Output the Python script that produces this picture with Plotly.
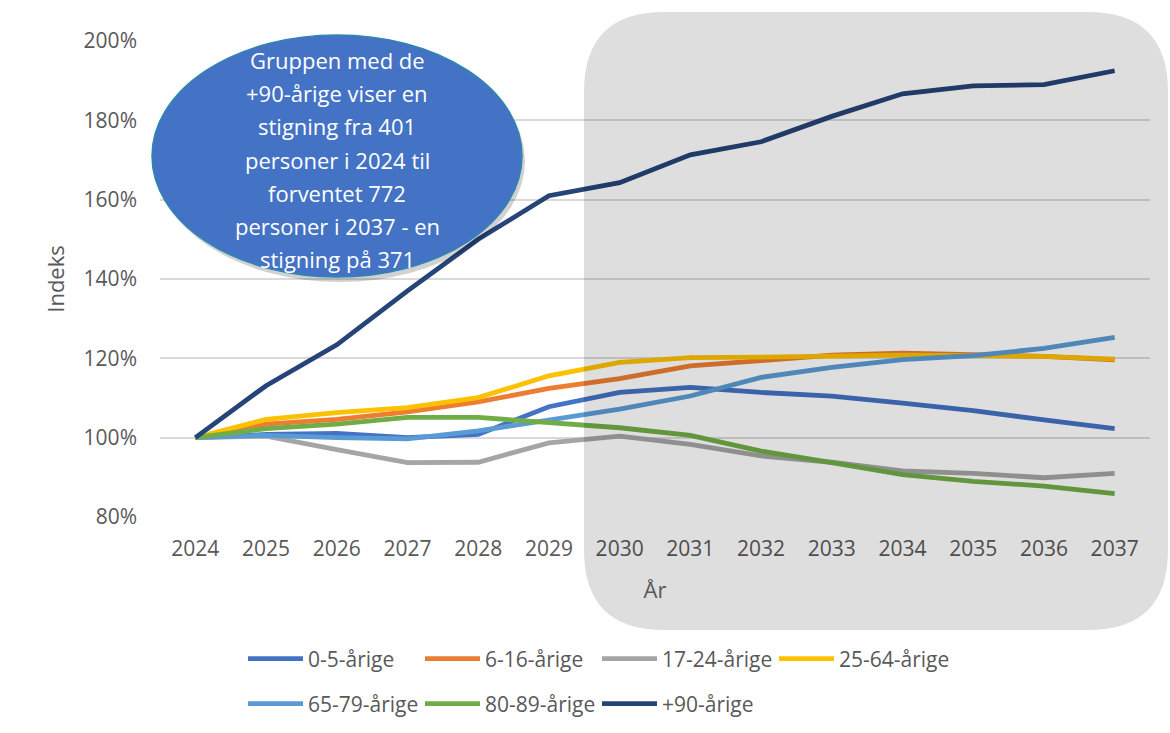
import plotly.graph_objects as go

years = [str(y) for y in range(2024, 2038)]
series_names = ["0-5-årige", "6-16-årige", "17-24-årige", "25-64-årige",
                "65-79-årige", "80-89-årige", "+90-årige"]
v_0_5 = [100, 100.8, 101.1, 100.0, 100.8, 107.8, 111.4, 112.7, 111.4, 110.5, 108.7, 106.8, 104.5, 102.3]
v_6_16 = [100, 103.4, 104.6, 106.5, 109.0, 112.4, 114.9, 118.1, 119.4, 120.8, 121.3, 120.8, 120.5, 119.6]
v_17_24 = [100, 100.4, 97.0, 93.7, 93.8, 98.7, 100.4, 98.3, 95.4, 93.8, 91.6, 91.0, 89.9, 91.0]
v_25_64 = [100, 104.6, 106.3, 107.6, 110.1, 115.6, 119.0, 120.2, 120.3, 120.7, 120.8, 120.7, 120.5, 119.8]
v_65_79 = [100, 100.6, 100.0, 99.7, 101.7, 104.6, 107.2, 110.5, 115.2, 117.7, 119.7, 120.7, 122.5, 125.3]
v_80_89 = [100, 102.3, 103.4, 105.1, 105.1, 103.8, 102.5, 100.6, 96.6, 93.7, 90.7, 89.0, 87.8, 85.9]
v_90 = [100, 113.1, 123.4, 137.0, 150.0, 161.0, 164.3, 171.3, 174.6, 181.0, 186.7, 188.7, 189.0, 192.5]
all_values = [v_0_5, v_6_16, v_17_24, v_25_64, v_65_79, v_80_89, v_90]
colors = ["#4472C4", "#ED7D31", "#A5A5A5", "#FFC000", "#5B9BD5", "#70AD47", "#264478"]

callout_lines = ["Gruppen med de", "+90-årige viser en", "stigning fra 401",
                 "personer i 2024 til", "forventet 772", "personer i 2037 - en",
                 "stigning på 371"]

FONT = "Open Sans, Noto Sans, sans-serif"
TXT = "#595959"

W, H = 1170, 733
L, R, T, B = 160, 20, 41, 216
PW, PH = W - L - R, H - T - B

def px(x):
    return (x - L) / PW

def py(y):
    return (H - B - y) / PH

fig = go.Figure()
for i, (name, vals, col) in enumerate(zip(series_names, all_values, colors)):
    fig.add_trace(go.Scatter(
        x=years, y=[v / 100 for v in vals], name=name, mode="lines",
        line=dict(color=col, width=4.8),
        legend="legend" if i < 4 else "legend2",
    ))

# rounded translucent rectangle (projection period)
x0, x1, y0, y1, r = 584, 1168, 12, 630, 80
pts = [
    f"M {px(x0 + r)},{py(y0)}",
    f"L {px(x1 - r)},{py(y0)}",
    f"Q {px(x1)},{py(y0)} {px(x1)},{py(y0 + r)}",
    f"L {px(x1)},{py(y1 - r)}",
    f"Q {px(x1)},{py(y1)} {px(x1 - r)},{py(y1)}",
    f"L {px(x0 + r)},{py(y1)}",
    f"Q {px(x0)},{py(y1)} {px(x0)},{py(y1 - r)}",
    f"L {px(x0)},{py(y0 + r)}",
    f"Q {px(x0)},{py(y0)} {px(x0 + r)},{py(y0)}",
    "Z",
]
fig.add_shape(type="path", path=" ".join(pts), xref="paper", yref="paper",
              fillcolor="rgba(0,0,0,0.13)", line=dict(width=0), layer="above")

# callout ellipse with shadow
ex0, ex1, ey0, ey1 = 152, 522, 35, 277
fig.add_shape(type="circle", xref="paper", yref="paper",
              x0=px(ex0 + 3), x1=px(ex1 + 3), y0=py(ey1 + 5), y1=py(ey0 + 5),
              fillcolor="rgba(0,0,0,0.18)", line=dict(width=0), layer="above")
fig.add_shape(type="circle", xref="paper", yref="paper",
              x0=px(ex0), x1=px(ex1), y0=py(ey1), y1=py(ey0),
              fillcolor="#4472C4", line=dict(color="#2E86B0", width=1.5), layer="above")

cy0, dy = 60, 33.2
for k, line in enumerate(callout_lines):
    fig.add_annotation(x=px(337), y=py(cy0 + k * dy), xref="paper", yref="paper",
                       text=line, showarrow=False, xanchor="center", yanchor="middle",
                       font=dict(family=FONT, size=22, color="white"))

leg_common = dict(orientation="h", x=px(243), xanchor="left", yanchor="middle",
                  entrywidth=107, entrywidthmode="pixels", itemwidth=55,
                  font=dict(family=FONT, size=21, color=TXT), bgcolor="rgba(0,0,0,0)")

fig.update_layout(
    width=W, height=H,
    margin=dict(l=L, r=R, t=T, b=B, autoexpand=False),
    paper_bgcolor="white", plot_bgcolor="white",
    font=dict(family=FONT, size=21, color=TXT),
    legend=dict(y=py(659), **leg_common),
    legend2=dict(y=py(704), **leg_common),
    showlegend=True,
)
fig.update_xaxes(type="category", range=[-0.5, 13.5], showgrid=False, showline=False,
                 zeroline=False, ticks="", ticklabelstandoff=17,
                 tickfont=dict(family=FONT, size=21, color=TXT),
                 title=dict(text="År", standoff=21, font=dict(family=FONT, size=22, color=TXT)))
fig.update_yaxes(range=[0.8, 2.0], dtick=0.2, tickformat=".0%",
                 showgrid=True, gridcolor="#D9D9D9", gridwidth=1.5,
                 zeroline=False, showline=False, ticks="", ticklabelstandoff=22,
                 tickfont=dict(family=FONT, size=21, color=TXT),
                 title=dict(text="Indeks", standoff=12, font=dict(family=FONT, size=22, color=TXT)))

fig.write_html("out.html", config={"displayModeBar": False},
               post_script="document.body.style.margin='0';")
